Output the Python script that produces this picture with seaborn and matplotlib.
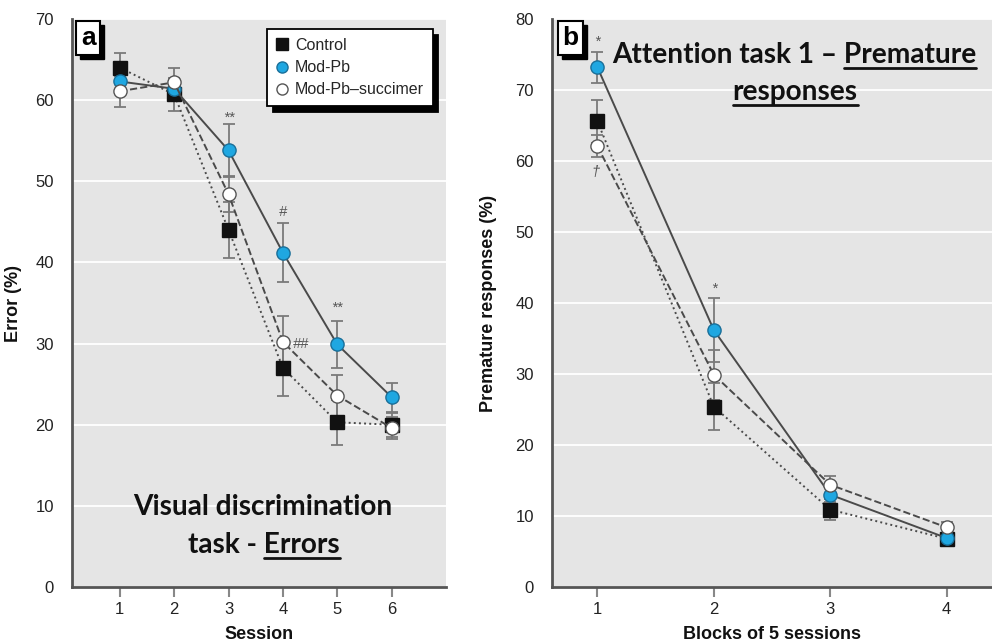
import numpy as np
import pandas as pd
import matplotlib
matplotlib.use("Agg")
import matplotlib.pyplot as plt
import seaborn as sns
from matplotlib.lines import Line2D
from matplotlib.patches import Rectangle
from matplotlib.transforms import IdentityTransform

# ---------------- data ----------------
groups = ["Control", "Mod-Pb", "Mod-Pb\u2013succimer"]

sessions_a = [1, 2, 3, 4, 5, 6]
ctrl_a = [64.0, 60.7, 44.0, 27.0, 20.3, 20.0]
ctrl_a_err = [1.8, 2.0, 3.4, 3.4, 2.8, 1.5]
modpb_a = [62.3, 61.4, 53.8, 41.2, 29.9, 23.4]
modpb_a_err = [1.0, 1.0, 3.3, 3.6, 2.9, 1.8]
succ_a = [61.1, 62.2, 48.4, 30.2, 23.6, 19.6]
succ_a_err = [1.9, 1.8, 2.2, 3.2, 2.5, 1.3]

blocks_b = [1, 2, 3, 4]
ctrl_b = [65.6, 25.4, 10.9, 6.8]
ctrl_b_err = [3.0, 3.3, 1.5, 0.5]
modpb_b = [73.2, 36.2, 13.0, 6.9]
modpb_b_err = [2.2, 4.5, 1.0, 0.5]
succ_b = [62.1, 29.9, 14.4, 8.4]
succ_b_err = [1.6, 3.5, 1.2, 0.8]

# significance annotations (x, y, text)
ann_a = [(3, 57.8, "**"), (4, 46.2, "#"), (5, 34.4, "**"), (4.33, 30.0, "##")]
ann_b = [(1, 76.8, "*"), (2, 42.0, "*"), (0.98, 58.4, "\u2020")]

# ---------------- style ----------------
sns.set_theme(style="darkgrid")
plt.rcParams["font.family"] = ["Liberation Sans Narrow", "Liberation Sans", "DejaVu Sans"]

BG = "#e5e5e5"
LINE = "#4a4a4a"
ERR = "#7a7a7a"
BLUE = "#1fa7e1"
styles = {
    "Control": dict(marker="s", mfc="#111111", mec="#111111", ls=":"),
    "Mod-Pb": dict(marker="o", mfc=BLUE, mec="#1a6f99", ls="-"),
    "Mod-Pb\u2013succimer": dict(marker="o", mfc="white", mec="#555555", ls="--"),
}

def make_df(x, series, errs):
    rows = []
    for g, vals, ee in zip(groups, series, errs):
        for xi, v, e in zip(x, vals, ee):
            rows.append(dict(x=xi, y=v, err=e, group=g))
    return pd.DataFrame(rows)

df_a = make_df(sessions_a, [ctrl_a, modpb_a, succ_a], [ctrl_a_err, modpb_a_err, succ_a_err])
df_b = make_df(blocks_b, [ctrl_b, modpb_b, succ_b], [ctrl_b_err, modpb_b_err, succ_b_err])

W, H = 992, 643
fig = plt.figure(figsize=(W / 100, H / 100), dpi=100)
fig.patch.set_facecolor("white")

ax_a = fig.add_axes([72 / W, 1 - 587 / H, (446 - 72) / W, (587 - 19) / H])
ax_b = fig.add_axes([552 / W, 1 - 587 / H, (992 - 552) / W, (587 - 19) / H])


def draw_panel(ax, df, xticks, xlim, ylim, yticks, xlabel, ylabel):
    ax.set_facecolor(BG)
    for g in groups:
        sub = df[df.group == g]
        st = styles[g]
        ax.errorbar(sub.x, sub.y, yerr=sub.err, fmt="none", ecolor=ERR,
                    elinewidth=1.3, capsize=4, capthick=1.3, zorder=2)
        sns.lineplot(data=sub, x="x", y="y", ax=ax, color=LINE, linestyle=st["ls"],
                     linewidth=1.4, marker=st["marker"], markersize=9.5,
                     markerfacecolor=st["mfc"], markeredgecolor=st["mec"],
                     markeredgewidth=1.0, errorbar=None, zorder=3, legend=False)
    ax.set_xlim(*xlim)
    ax.set_ylim(*ylim)
    ax.set_xticks(xticks)
    ax.set_yticks(yticks)
    ax.grid(axis="x", visible=False)
    ax.grid(axis="y", color="white", linewidth=1.3)
    for s in ["top", "right"]:
        ax.spines[s].set_visible(False)
    for s in ["left", "bottom"]:
        ax.spines[s].set_visible(True)
        ax.spines[s].set_color("#555555")
        ax.spines[s].set_linewidth(2.0)
    ax.tick_params(axis="y", length=0, pad=13, labelsize=12, labelcolor="#222222")
    ax.tick_params(axis="x", length=7, width=1.5, color="#888888", pad=4,
                   labelsize=12, labelcolor="#222222", direction="out", bottom=True)
    ax.set_xlabel(xlabel, fontsize=13, fontweight="bold", labelpad=6, color="#111111")
    ax.set_ylabel(ylabel, fontsize=13, fontweight="bold", labelpad=4, color="#111111")


draw_panel(ax_a, df_a, sessions_a, (0.12, 7.0), (0, 70), range(0, 71, 10), "Session", "Error (%)")
draw_panel(ax_b, df_b, blocks_b, (0.61, 4.39), (0, 80), range(0, 81, 10),
           "Blocks of 5 sessions", "Premature responses (%)")
ax_a.yaxis.set_label_coords(-0.135, 0.5)
ax_b.yaxis.set_label_coords(-0.125, 0.5)

for ax, anns in [(ax_a, ann_a), (ax_b, ann_b)]:
    for x, y, t in anns:
        ax.text(x, y, t, ha="center", va="center", fontsize=10.5, color="#555555",
                style="italic", zorder=4)

# panel letters in boxes (shadow added after drawing)
letters = []
for ax, letter in [(ax_a, "a"), (ax_b, "b")]:
    t = ax.text(0.024, 0.988, letter, transform=ax.transAxes, color="black", zorder=6,
                fontsize=19, fontweight="bold", ha="left", va="top",
                family=["Liberation Sans", "DejaVu Sans"],
                bbox=dict(boxstyle="square,pad=0.18", fc="white", ec="black", lw=1.5))
    letters.append((ax, t))

# legend in panel a
handles = [Line2D([], [], linestyle="none", marker=styles[g]["marker"], markersize=8,
                  markerfacecolor=styles[g]["mfc"], markeredgecolor=styles[g]["mec"])
           for g in groups]
leg = ax_a.legend(handles, groups, loc="upper right", bbox_to_anchor=(0.965, 0.982),
                  borderaxespad=0.0,
                  frameon=True, fancybox=False, edgecolor="black", facecolor="white",
                  framealpha=1, fontsize=11.5, handlelength=0.8, handletextpad=0.4,
                  labelspacing=0.45, borderpad=0.55,
                  shadow={"color": "black", "alpha": 1.0, "ox": 4, "oy": -4})
leg.get_frame().set_linewidth(1.3)
leg.set_zorder(7)

# big titles
tfont = dict(fontsize=20.2, fontweight="bold", color="#111111", family=["Lato", "Open Sans", "DejaVu Sans"])

def px(x, y):
    return x / W, 1 - y / H

t_a1 = fig.text(*px(263, 515), "Visual discrimination", ha="center", va="baseline", **tfont)
t_a2 = fig.text(*px(264, 553), "task - Errors", ha="center", va="baseline", **tfont)
t_b1 = fig.text(*px(794, 63), "Attention task 1 \u2013 Premature", ha="center", va="baseline", **tfont)
t_b2 = fig.text(*px(795, 100), "responses", ha="center", va="baseline", **tfont)

fig.canvas.draw()
renderer = fig.canvas.get_renderer()

def underline_last(txt, word, base_y):
    bb = txt.get_window_extent(renderer)
    tmp = fig.text(0, 0, word, **tfont)
    w = tmp.get_window_extent(renderer).width
    tmp.remove()
    x1 = bb.x1
    x0 = x1 - w
    yy = (H - base_y) - 5
    fig.add_artist(Line2D([x0 / W, x1 / W], [yy / H, yy / H], transform=fig.transFigure,
                          color="#111111", linewidth=2.0))

underline_last(t_a2, "Errors", 553)
underline_last(t_b1, "Premature", 63)
underline_last(t_b2, "responses", 100)

# shadows for the letter boxes, drawn inside the axes beneath the letter box
for ax, t in letters:
    bb = t.get_bbox_patch().get_window_extent(renderer)
    ax.add_artist(Rectangle((bb.x0 + 4, bb.y0 - 4), bb.width, bb.height,
                            transform=IdentityTransform(), facecolor="black",
                            edgecolor="black", zorder=5.5, clip_on=False))

fig.savefig("out.png", dpi=100)
